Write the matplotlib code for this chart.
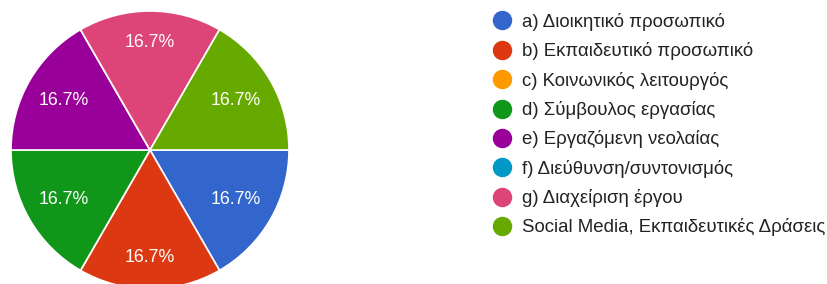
import matplotlib.pyplot as plt
import numpy as np
from matplotlib.lines import Line2D

plt.rcParams['font.family'] = ['Liberation Sans', 'DejaVu Sans']

# Data (Google Forms pie: each answer count)
labels = ['a) Διοικητικό προσωπικό', 'b) Εκπαιδευτικό προσωπικό', 'c) Κοινωνικός λειτουργός',
          'd) Σύμβουλος εργασίας', 'e) Εργαζόμενη νεολαίας', 'f) Διεύθυνση/συντονισμός',
          'g) Διαχείριση έργου', 'Social Media, Εκπαιδευτικές Δράσεις']
counts = [1, 1, 0, 1, 1, 0, 1, 1]
colors = ['#3366cc', '#dc3912', '#ff9900', '#109618', '#990099', '#0099c6', '#dd4477', '#66aa00']

W, H = 828, 284
fig = plt.figure(figsize=(W / 100, H / 100), dpi=100, facecolor='white')

# Pie axes: center (150,150) px from top, radius 139 px
cx, cy, r = 150, 150, 139
ax = fig.add_axes([(cx - r) / W, (H - cy - r) / H, 2 * r / W, 2 * r / H])
wedges, _ = ax.pie(counts, colors=colors, startangle=0, counterclock=False,
                   wedgeprops=dict(edgecolor='white', linewidth=1.2))
ax.set_xlim(-1, 1)
ax.set_ylim(-1, 1)
ax.set_aspect('equal')
ax.axis('off')
for w in wedges:
    w.set_clip_on(False)

total = sum(counts)
for w, c in zip(wedges, counts):
    if c == 0:
        continue
    mid = np.deg2rad((w.theta1 + w.theta2) / 2)
    d = 0.66 + 0.11 * abs(np.sin(mid))
    ax.text(d * np.cos(mid), d * np.sin(mid), f'{100 * c / total:.1f}%',
            ha='center', va='center', color='white', fontsize=12.8)

# Legend
handles = [Line2D([], [], marker='o', linestyle='none', markersize=13,
                  markerfacecolor=col, markeredgecolor=col) for col in colors]
leg = fig.legend(handles, labels, loc='upper left', bbox_to_anchor=(493 / W, 1 - 13 / H),
                 frameon=False, fontsize=13.4, labelcolor='#222222',
                 handlelength=1.0, handletextpad=0.58, labelspacing=0.61,
                 borderaxespad=0, borderpad=0)

fig.savefig('out.png', dpi=100, facecolor='white')
